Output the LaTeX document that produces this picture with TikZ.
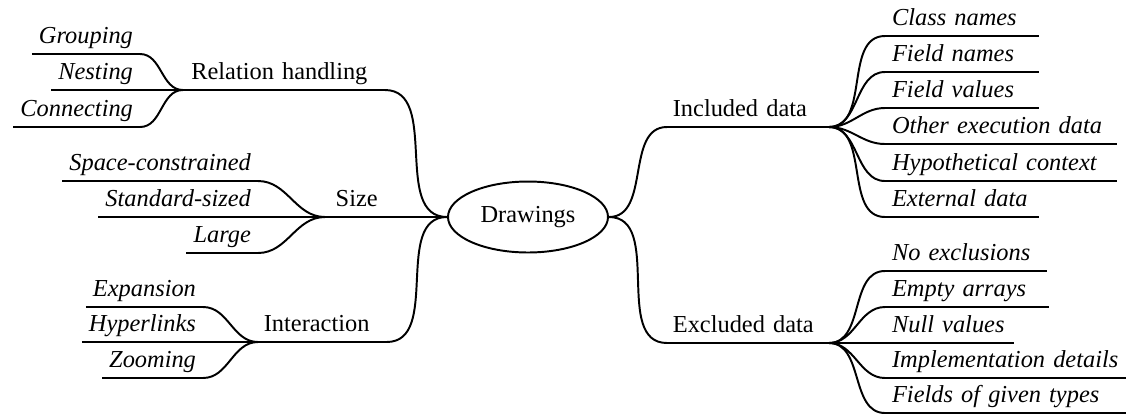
\documentclass[tikz,border=0pt]{standalone}
\usepackage{fontspec}
\setmainfont{Liberation Serif}
\usetikzlibrary{shapes.geometric}

\begin{document}
\begin{tikzpicture}[x=0.41pt,y=-0.41pt,thick]
\tikzstyle{every node}=[inner ysep=1.6pt, text height=7pt, text depth=2.2pt]
\tikzstyle{lleaf}=[anchor=south east, inner xsep=2.5pt, font=\itshape]
\tikzstyle{rleaf}=[anchor=south west, inner xsep=2.5pt, align=left, font=\itshape]
\tikzstyle{branch}=[anchor=south west, inner xsep=2pt, align=left]
\useasboundingbox (0,0) rectangle (1135,415);
\draw (528,217) node (drw) [ellipse, draw, inner sep=0pt, minimum width=65.6pt, minimum height=29.1pt] {Drawings};
% left side
\draw (183,90) node (rel) [branch, inner xsep=3pt, text width=76pt] {Relation handling};
\draw (325,217) node (size) [branch, inner xsep=4pt] {Size};
\draw (258,342) node (act) [branch, text width=48pt] {Interaction};
\draw (140,54) node (grp) [lleaf] {Grouping};
\draw (140,90) node (nst) [lleaf] {Nesting};
\draw (140,127) node (con) [lleaf] {Connecting};
\draw (258,181) node (spc) [lleaf] {Space-constrained};
\draw (258,217) node (std) [lleaf] {Standard-sized};
\draw (258,253) node (lrg) [lleaf] {Large};
\draw (203,307) node (exp) [lleaf] {Expansion};
\draw (203,342) node (hyp) [lleaf] {Hyperlinks};
\draw (203,378) node (zoo) [lleaf] {Zooming};
% right side
\draw (667,127) node (inc) [branch, text width=61.6pt] {Included data};
\draw (667,343) node (exc) [branch, text width=61.6pt] {Excluded data};
\draw (885,36) node (cls) [rleaf, text width=57.5pt] {Class names};
\draw (885,72) node (fnm) [rleaf, text width=57.5pt] {Field names};
\draw (885,108) node (fvl) [rleaf, text width=57.5pt] {Field values};
\draw (885,144) node (oth) [rleaf, text width=89.3pt] {Other execution data};
\draw (885,181) node (hyc) [rleaf, text width=89.3pt] {Hypothetical context};
\draw (885,217) node (ext) [rleaf, text width=57.5pt] {External data};
\draw (885,271) node (nox) [rleaf, text width=60.6pt] {No exclusions};
\draw (885,307) node (emp) [rleaf, text width=61.4pt] {Empty arrays};
\draw (885,343) node (nul) [rleaf, text width=47.1pt] {Null values};
\draw (885,378) node (imp) [rleaf, text width=93pt] {Implementation details};
\draw (885,413) node (fgt) [rleaf, text width=93pt] {Fields of given types};
% underlines
\foreach \n in {rel,size,act,grp,nst,con,spc,std,lrg,exp,hyp,zoo,inc,exc,cls,fnm,fvl,oth,hyc,ext,nox,emp,nul,imp,fgt}
  \draw (\n.south west) -- (\n.south east);
% branches
\foreach \n in {grp,nst,con} \draw (\n.south east) to[out=0,in=180] (rel.south west);
\foreach \n in {spc,std,lrg} \draw (\n.south east) to[out=0,in=180] (size.south west);
\foreach \n in {exp,hyp,zoo} \draw (\n.south east) to[out=0,in=180] (act.south west);
\foreach \n in {rel,size,act} \draw (\n.south east) to[out=0,in=180] (drw.west);
\foreach \n in {inc,exc} \draw (drw.east) to[out=0,in=180] (\n.south west);
\foreach \n in {cls,fnm,fvl,oth,hyc,ext} \draw (inc.south east) to[out=0,in=180] (\n.south west);
\foreach \n in {nox,emp,nul,imp,fgt} \draw (exc.south east) to[out=0,in=180] (\n.south west);
\end{tikzpicture}
\end{document}
